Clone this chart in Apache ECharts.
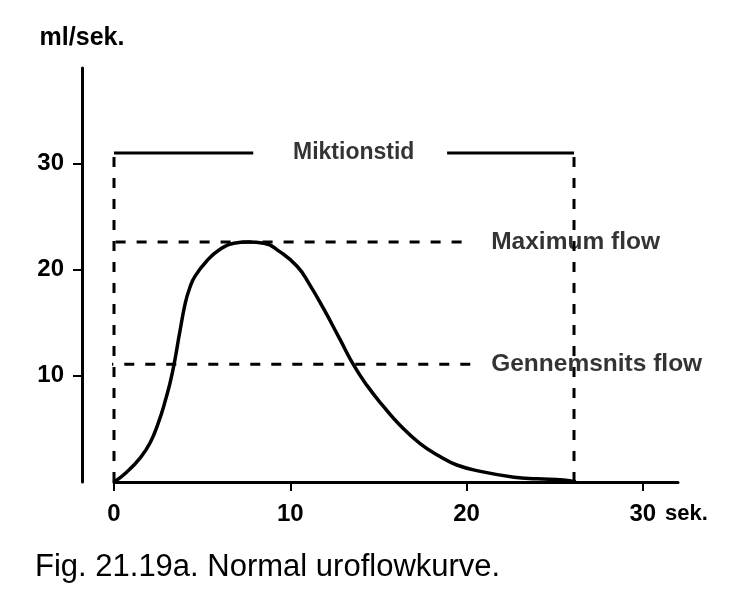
<!DOCTYPE html>
<html>
<head>
<meta charset="utf-8">
<script src="https://cdn.jsdelivr.net/npm/echarts@6/dist/echarts.min.js"></script>
<style>
  html, body { margin: 0; padding: 0; background: #fff; }
  #chart_1 { width: 744px; height: 614px; }
</style>
</head>
<body>
<div id="chart_1"></div>
<script>
// flow curve (sek. / ml/sek.)
var flowTime = [0, 0.7, 1.5, 2.05, 2.5, 2.9, 3.3, 3.75, 4.05, 4.3, 4.6, 5.25, 6.0, 6.8, 7.6, 8.5, 9.4, 10.4, 11.1, 11.9, 12.8, 13.6, 14.35, 15.3, 16.2, 17.35, 18.5, 19.45, 20.8, 22.7, 24.0, 25.5, 26.2];
var flowRate = [0, 0.9, 2.3, 3.7, 5.5, 7.6, 10.2, 14.3, 16.9, 18.3, 19.4, 20.8, 21.9, 22.5, 22.6, 22.5, 21.7, 20.3, 18.6, 16.3, 13.5, 11.0, 9.1, 7.1, 5.4, 3.65, 2.4, 1.6, 1.0, 0.45, 0.3, 0.2, 0];

var xTicks = [0, 10, 20, 30];
var yTicks = [10, 20, 30];

var maxFlow = 22.6;
var meanFlow = 11.1;
var voidStart = 0;
var voidEnd = 26.1;
var bracketLevel = 31;
var bracketGap = [7.9, 18.9];
var maxLineFrom = -1.1;
var meanLineFrom = -1.8;
var refLineTo = 20.3;
var refLabelAt = 21.4;
var bracketLabelAt = 13.6;

var labelFont = 'Liberation Sans';
var dash = [10, 11];

function pairs(xs, ys) {
    var out = [];
    for (var i = 0; i < xs.length; i++) {
        out.push([xs[i], ys[i]]);
    }
    return out;
}

function dashed(data) {
    return {
        type: 'line',
        data: data,
        symbol: 'none',
        clip: false,
        silent: true,
        lineStyle: {color: '#000', width: 3, type: dash}
    };
}

function textAt(x, y, text, pos, size) {
    return {
        type: 'scatter',
        data: [[x, y]],
        symbolSize: 0,
        clip: false,
        silent: true,
        label: {
            show: true,
            position: pos,
            distance: 0,
            formatter: text,
            color: '#000',
            textBorderWidth: 0,
            fontFamily: labelFont,
            fontWeight: 'bold',
            fontSize: size
        }
    };
}

var chart_data = [];
// the curve
chart_data.push({
    type: 'line',
    data: pairs(flowTime, flowRate),
    symbol: 'none',
    smooth: 0.5,
    lineStyle: {color: '#000', width: 3.5}
});
// Miktionstid bracket
chart_data.push(dashed([[voidStart, 0], [voidStart, bracketLevel]]));
chart_data.push(dashed([[voidEnd, 0], [voidEnd, bracketLevel]]));
chart_data.push({
    type: 'line',
    data: [[voidStart, bracketLevel], [bracketGap[0], bracketLevel], '-', [bracketGap[1], bracketLevel], [voidEnd, bracketLevel]],
    symbol: 'none',
    clip: false,
    silent: true,
    connectNulls: false,
    lineStyle: {color: '#000', width: 3}
});
// max and mean flow
chart_data.push(dashed([[maxLineFrom, maxFlow], [refLineTo, maxFlow]]));
chart_data.push(dashed([[meanLineFrom, meanFlow], [refLineTo, meanFlow]]));
chart_data.push(textAt(bracketLabelAt, bracketLevel, 'Miktionstid', 'inside', 23));
chart_data.push(textAt(refLabelAt, maxFlow, 'Maximum flow', 'right', 24.5));
chart_data.push(textAt(refLabelAt, meanFlow, 'Gennemsnits flow', 'right', 24.5));

var myChart = echarts.init(document.getElementById('chart_1'));
var option = {
    animation: false,
    backgroundColor: '#fff',
    grid: {left: 114, right: 66, top: 68, bottom: 132},
    xAxis: {
        type: 'value',
        min: 0,
        max: 32,
        interval: 10,
        name: 'sek.',
        nameLocation: 'end',
        nameGap: -13,
        nameTextStyle: {
            color: '#000', fontFamily: labelFont, fontWeight: 'bold', fontSize: 22,
            verticalAlign: 'top', padding: [21, 0, 0, 0]
        },
        axisLine: {onZero: false, lineStyle: {color: '#000', width: 3}},
        axisTick: {show: true, length: 9, lineStyle: {color: '#000', width: 2}, customValues: xTicks},
        axisLabel: {
            color: '#000', fontFamily: labelFont, fontWeight: 'bold', fontSize: 24, margin: 20,
            customValues: xTicks
        },
        splitLine: {show: false}
    },
    yAxis: {
        type: 'value',
        min: 0,
        max: 39,
        interval: 10,
        offset: 32,
        name: 'ml/sek.',
        nameLocation: 'end',
        nameGap: 17,
        nameTextStyle: {color: '#000', fontFamily: labelFont, fontWeight: 'bold', fontSize: 25},
        axisLine: {show: true, onZero: false, lineStyle: {color: '#000', width: 3}},
        axisTick: {show: true, length: 9, lineStyle: {color: '#000', width: 2}, customValues: yTicks},
        axisLabel: {
            color: '#000', fontFamily: labelFont, fontWeight: 'bold', fontSize: 24, margin: 18,
            customValues: yTicks
        },
        splitLine: {show: false}
    },
    graphic: [{
        type: 'text',
        left: 35,
        top: 552,
        style: {
            text: 'Fig. 21.19a. Normal uroflowkurve.',
            fill: '#000',
            font: '31px "Liberation Sans"'
        }
    }],
    series: chart_data
};

myChart.setOption(option);
</script>
</body>
</html>
